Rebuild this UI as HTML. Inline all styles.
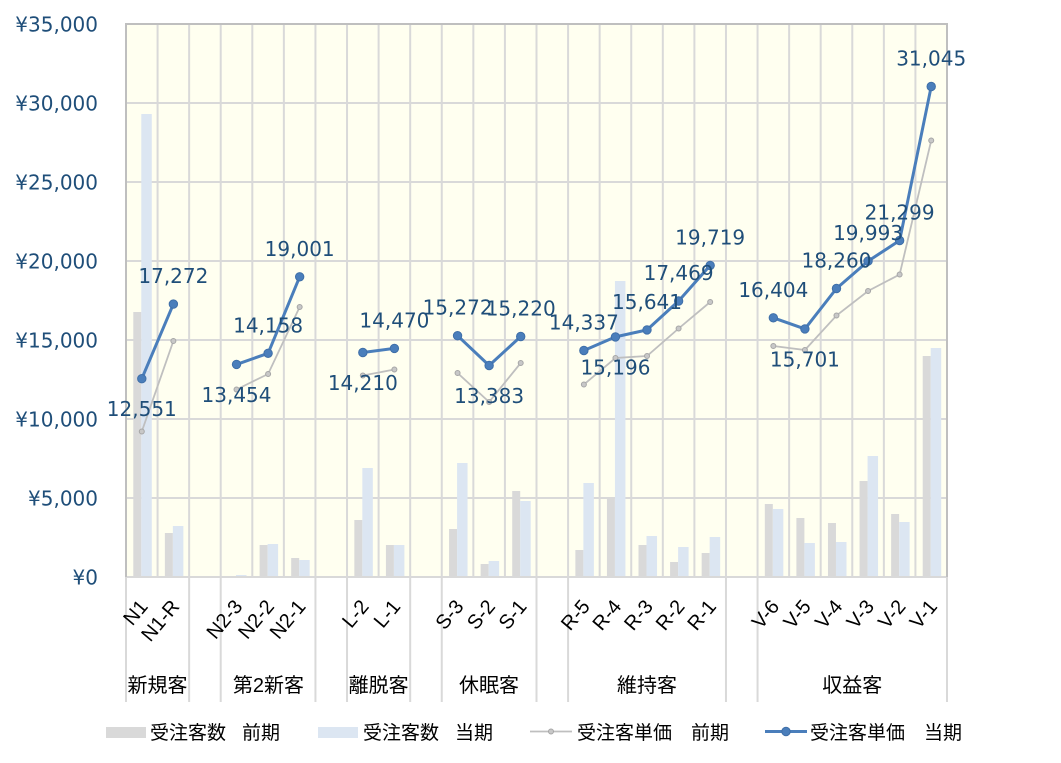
<!DOCTYPE html>
<html><head><meta charset="utf-8"><style>
html,body{margin:0;padding:0;background:#fff;}
svg{display:block;}
.yl{font-family:"DejaVu Sans","Liberation Sans",sans-serif;font-size:20px;fill:#1F4E79;text-anchor:end;}
.dl{font-family:"DejaVu Sans","Liberation Sans",sans-serif;font-size:20px;fill:#1F4E79;text-anchor:middle;}
.tk{font-family:"Liberation Sans","DejaVu Sans",sans-serif;font-size:20px;fill:#000;text-anchor:end;}
.gl{font-family:"Liberation Sans","Noto Sans CJK JP",sans-serif;font-size:20px;fill:#000;text-anchor:middle;}
.lg{font-family:"Liberation Sans","Noto Sans CJK JP",sans-serif;font-size:19px;fill:#000;}
</style></head><body>
<svg width="1061" height="763" viewBox="0 0 1061 763" xmlns="http://www.w3.org/2000/svg">
<rect x="0" y="0" width="1061" height="763" fill="#fff"/>
<rect x="126" y="24" width="821" height="553" fill="#FFFFF0"/>
<g stroke="#D9D9D9" stroke-width="2">
<line x1="126" y1="498" x2="947" y2="498"/><line x1="126" y1="419" x2="947" y2="419"/><line x1="126" y1="340" x2="947" y2="340"/><line x1="126" y1="261" x2="947" y2="261"/><line x1="126" y1="182" x2="947" y2="182"/><line x1="126" y1="103" x2="947" y2="103"/>
<line x1="157.58" y1="24" x2="157.58" y2="577"/><line x1="189.15" y1="24" x2="189.15" y2="577"/><line x1="220.73" y1="24" x2="220.73" y2="577"/><line x1="252.31" y1="24" x2="252.31" y2="577"/><line x1="283.88" y1="24" x2="283.88" y2="577"/><line x1="315.46" y1="24" x2="315.46" y2="577"/><line x1="347.04" y1="24" x2="347.04" y2="577"/><line x1="378.62" y1="24" x2="378.62" y2="577"/><line x1="410.19" y1="24" x2="410.19" y2="577"/><line x1="441.77" y1="24" x2="441.77" y2="577"/><line x1="473.35" y1="24" x2="473.35" y2="577"/><line x1="504.92" y1="24" x2="504.92" y2="577"/><line x1="536.50" y1="24" x2="536.50" y2="577"/><line x1="568.08" y1="24" x2="568.08" y2="577"/><line x1="599.65" y1="24" x2="599.65" y2="577"/><line x1="631.23" y1="24" x2="631.23" y2="577"/><line x1="662.81" y1="24" x2="662.81" y2="577"/><line x1="694.38" y1="24" x2="694.38" y2="577"/><line x1="725.96" y1="24" x2="725.96" y2="577"/><line x1="757.54" y1="24" x2="757.54" y2="577"/><line x1="789.12" y1="24" x2="789.12" y2="577"/><line x1="820.69" y1="24" x2="820.69" y2="577"/><line x1="852.27" y1="24" x2="852.27" y2="577"/><line x1="883.85" y1="24" x2="883.85" y2="577"/><line x1="915.42" y1="24" x2="915.42" y2="577"/>
<line x1="126" y1="577" x2="126" y2="702"/><line x1="189.15" y1="577" x2="189.15" y2="702"/><line x1="220.73" y1="577" x2="220.73" y2="702"/><line x1="315.46" y1="577" x2="315.46" y2="702"/><line x1="347.04" y1="577" x2="347.04" y2="702"/><line x1="410.19" y1="577" x2="410.19" y2="702"/><line x1="441.77" y1="577" x2="441.77" y2="702"/><line x1="536.50" y1="577" x2="536.50" y2="702"/><line x1="568.08" y1="577" x2="568.08" y2="702"/><line x1="725.96" y1="577" x2="725.96" y2="702"/><line x1="757.54" y1="577" x2="757.54" y2="702"/><line x1="947" y1="577" x2="947" y2="702"/>
</g>
<g fill="#D9D9D9">
<rect x="133.29" y="312" width="8" height="265"/><rect x="164.87" y="533" width="8" height="44"/><rect x="259.60" y="545" width="8" height="32"/><rect x="291.17" y="558" width="8" height="19"/><rect x="354.33" y="520" width="8" height="57"/><rect x="385.90" y="545" width="8" height="32"/><rect x="449.06" y="529" width="8" height="48"/><rect x="480.63" y="564" width="8" height="13"/><rect x="512.21" y="491" width="8" height="86"/><rect x="575.37" y="550" width="8" height="27"/><rect x="606.94" y="498" width="8" height="79"/><rect x="638.52" y="545" width="8" height="32"/><rect x="670.10" y="562" width="8" height="15"/><rect x="701.67" y="553" width="8" height="24"/><rect x="764.83" y="504" width="8" height="73"/><rect x="796.40" y="518" width="8" height="59"/><rect x="827.98" y="523" width="8" height="54"/><rect x="859.56" y="481" width="8" height="96"/><rect x="891.13" y="514" width="8" height="63"/><rect x="922.71" y="356" width="8" height="221"/>
</g>
<g fill="#DCE6F2">
<rect x="141.29" y="114" width="10.5" height="463"/><rect x="172.87" y="526" width="10.5" height="51"/><rect x="236.02" y="575" width="10.5" height="2"/><rect x="267.60" y="544" width="10.5" height="33"/><rect x="299.17" y="560" width="10.5" height="17"/><rect x="362.33" y="468" width="10.5" height="109"/><rect x="393.90" y="545" width="10.5" height="32"/><rect x="457.06" y="463" width="10.5" height="114"/><rect x="488.63" y="561" width="10.5" height="16"/><rect x="520.21" y="501" width="10.5" height="76"/><rect x="583.37" y="483" width="10.5" height="94"/><rect x="614.94" y="281" width="10.5" height="296"/><rect x="646.52" y="536" width="10.5" height="41"/><rect x="678.10" y="547" width="10.5" height="30"/><rect x="709.67" y="537" width="10.5" height="40"/><rect x="772.83" y="509" width="10.5" height="68"/><rect x="804.40" y="543" width="10.5" height="34"/><rect x="835.98" y="542" width="10.5" height="35"/><rect x="867.56" y="456" width="10.5" height="121"/><rect x="899.13" y="522" width="10.5" height="55"/><rect x="930.71" y="348" width="10.5" height="229"/>
</g>
<line x1="126" y1="577" x2="947" y2="577" stroke="#D9D9D9" stroke-width="2"/>
<polyline points="126,577 126,24 947,24 947,577" fill="none" stroke="#BFBFBF" stroke-width="2"/>
<g fill="none" stroke="#BFBFBF" stroke-width="1.8">
<polyline points="141.79,431.5 173.37,341"/>
<polyline points="236.52,389.5 268.10,374 299.67,307"/>
<polyline points="362.83,375.5 394.40,369.5"/>
<polyline points="457.56,373 489.13,402 520.71,363"/>
<polyline points="583.87,384.5 615.44,358 647.02,356 678.60,328.5 710.17,302"/>
<polyline points="773.33,346 804.90,350 836.48,315.5 868.06,291 899.63,274.5 931.21,140.5"/>
</g>
<g fill="#C8C8C8" stroke="#A6A6A6" stroke-width="1">
<circle cx="141.79" cy="431.5" r="2.5"/><circle cx="173.37" cy="341" r="2.5"/><circle cx="236.52" cy="389.5" r="2.5"/><circle cx="268.10" cy="374" r="2.5"/><circle cx="299.67" cy="307" r="2.5"/><circle cx="362.83" cy="375.5" r="2.5"/><circle cx="394.40" cy="369.5" r="2.5"/><circle cx="457.56" cy="373" r="2.5"/><circle cx="489.13" cy="402" r="2.5"/><circle cx="520.71" cy="363" r="2.5"/><circle cx="583.87" cy="384.5" r="2.5"/><circle cx="615.44" cy="358" r="2.5"/><circle cx="647.02" cy="356" r="2.5"/><circle cx="678.60" cy="328.5" r="2.5"/><circle cx="710.17" cy="302" r="2.5"/><circle cx="773.33" cy="346" r="2.5"/><circle cx="804.90" cy="350" r="2.5"/><circle cx="836.48" cy="315.5" r="2.5"/><circle cx="868.06" cy="291" r="2.5"/><circle cx="899.63" cy="274.5" r="2.5"/><circle cx="931.21" cy="140.5" r="2.5"/>
</g>
<g fill="none" stroke="#4A7EBB" stroke-width="3" stroke-linejoin="round">
<polyline points="141.79,378.7 173.37,304.1"/>
<polyline points="236.52,364.4 268.10,353.3 299.67,276.8"/>
<polyline points="362.83,352.5 394.40,348.4"/>
<polyline points="457.56,335.7 489.13,365.5 520.71,336.5"/>
<polyline points="583.87,350.5 615.44,336.9 647.02,329.9 678.60,301.0 710.17,265.4"/>
<polyline points="773.33,317.8 804.90,328.9 836.48,288.5 868.06,261.1 899.63,240.5 931.21,86.5"/>
</g>
<g fill="#4A7EBB" stroke="#3F6FA8" stroke-width="1">
<circle cx="141.79" cy="378.7" r="4.2"/><circle cx="173.37" cy="304.1" r="4.2"/><circle cx="236.52" cy="364.4" r="4.2"/><circle cx="268.10" cy="353.3" r="4.2"/><circle cx="299.67" cy="276.8" r="4.2"/><circle cx="362.83" cy="352.5" r="4.2"/><circle cx="394.40" cy="348.4" r="4.2"/><circle cx="457.56" cy="335.7" r="4.2"/><circle cx="489.13" cy="365.5" r="4.2"/><circle cx="520.71" cy="336.5" r="4.2"/><circle cx="583.87" cy="350.5" r="4.2"/><circle cx="615.44" cy="336.9" r="4.2"/><circle cx="647.02" cy="329.9" r="4.2"/><circle cx="678.60" cy="301.0" r="4.2"/><circle cx="710.17" cy="265.4" r="4.2"/><circle cx="773.33" cy="317.8" r="4.2"/><circle cx="804.90" cy="328.9" r="4.2"/><circle cx="836.48" cy="288.5" r="4.2"/><circle cx="868.06" cy="261.1" r="4.2"/><circle cx="899.63" cy="240.5" r="4.2"/><circle cx="931.21" cy="86.5" r="4.2"/>
</g>
<text class="yl" x="98" y="31.5">¥35,000</text>
<text class="yl" x="98" y="110.5">¥30,000</text>
<text class="yl" x="98" y="189.5">¥25,000</text>
<text class="yl" x="98" y="268.5">¥20,000</text>
<text class="yl" x="98" y="347.5">¥15,000</text>
<text class="yl" x="98" y="426.5">¥10,000</text>
<text class="yl" x="98" y="505.5">¥5,000</text>
<text class="yl" x="98" y="584.5">¥0</text>
<text class="dl" x="141.79" y="416.2">12,551</text>
<text class="dl" x="173.37" y="283.1">17,272</text>
<text class="dl" x="236.52" y="401.9">13,454</text>
<text class="dl" x="268.10" y="332.3">14,158</text>
<text class="dl" x="299.67" y="255.8">19,001</text>
<text class="dl" x="362.83" y="390">14,210</text>
<text class="dl" x="394.40" y="327.4">14,470</text>
<text class="dl" x="457.56" y="314.7">15,272</text>
<text class="dl" x="489.13" y="403">13,383</text>
<text class="dl" x="520.71" y="315.5">15,220</text>
<text class="dl" x="583.87" y="329.5">14,337</text>
<text class="dl" x="615.44" y="374.4">15,196</text>
<text class="dl" x="647.02" y="308.9">15,641</text>
<text class="dl" x="678.60" y="280">17,469</text>
<text class="dl" x="710.17" y="244.4">19,719</text>
<text class="dl" x="773.33" y="296.8">16,404</text>
<text class="dl" x="804.90" y="366.4">15,701</text>
<text class="dl" x="836.48" y="267.5">18,260</text>
<text class="dl" x="868.06" y="240.1">19,993</text>
<text class="dl" x="899.63" y="219.5">21,299</text>
<text class="dl" x="931.21" y="65.5">31,045</text>
<text class="tk" transform="translate(148.8,607) rotate(-50)">N1</text>
<text class="tk" transform="translate(180.4,607) rotate(-50)">N1-R</text>
<text class="tk" transform="translate(243.5,607) rotate(-50)">N2-3</text>
<text class="tk" transform="translate(275.1,607) rotate(-50)">N2-2</text>
<text class="tk" transform="translate(306.7,607) rotate(-50)">N2-1</text>
<text class="tk" transform="translate(369.8,607) rotate(-50)">L-2</text>
<text class="tk" transform="translate(401.4,607) rotate(-50)">L-1</text>
<text class="tk" transform="translate(464.6,607) rotate(-50)">S-3</text>
<text class="tk" transform="translate(496.1,607) rotate(-50)">S-2</text>
<text class="tk" transform="translate(527.7,607) rotate(-50)">S-1</text>
<text class="tk" transform="translate(590.9,607) rotate(-50)">R-5</text>
<text class="tk" transform="translate(622.4,607) rotate(-50)">R-4</text>
<text class="tk" transform="translate(654.0,607) rotate(-50)">R-3</text>
<text class="tk" transform="translate(685.6,607) rotate(-50)">R-2</text>
<text class="tk" transform="translate(717.2,607) rotate(-50)">R-1</text>
<text class="tk" transform="translate(780.3,607) rotate(-50)">V-6</text>
<text class="tk" transform="translate(811.9,607) rotate(-50)">V-5</text>
<text class="tk" transform="translate(843.5,607) rotate(-50)">V-4</text>
<text class="tk" transform="translate(875.1,607) rotate(-50)">V-3</text>
<text class="tk" transform="translate(906.6,607) rotate(-50)">V-2</text>
<text class="tk" transform="translate(938.2,607) rotate(-50)">V-1</text>
<text class="gl" x="157.5" y="692">新規客</text>
<text class="gl" x="268.4" y="692">第2新客</text>
<text class="gl" x="378.6" y="692">離脱客</text>
<text class="gl" x="489" y="692">休眠客</text>
<text class="gl" x="647" y="692">維持客</text>
<text class="gl" x="852.3" y="692">収益客</text>
<rect x="106" y="727" width="40" height="11" fill="#D9D9D9"/>
<text class="lg" y="739"><tspan x="150">受注客数</tspan><tspan x="242">前期</tspan></text>
<rect x="318" y="727" width="40" height="11" fill="#DCE6F2"/>
<text class="lg" y="739"><tspan x="363">受注客数</tspan><tspan x="455">当期</tspan></text>
<line x1="530" y1="731.5" x2="572" y2="731.5" stroke="#BFBFBF" stroke-width="1.8"/>
<circle cx="551" cy="731.5" r="2.5" fill="#C8C8C8" stroke="#A6A6A6" stroke-width="1"/>
<text class="lg" y="739"><tspan x="577">受注客単価</tspan><tspan x="691">前期</tspan></text>
<line x1="765" y1="731.5" x2="807" y2="731.5" stroke="#4A7EBB" stroke-width="3"/>
<circle cx="786" cy="731.5" r="4.2" fill="#4A7EBB" stroke="#3F6FA8" stroke-width="1"/>
<text class="lg" y="739"><tspan x="810">受注客単価</tspan><tspan x="924">当期</tspan></text>
</svg>
</body></html>
